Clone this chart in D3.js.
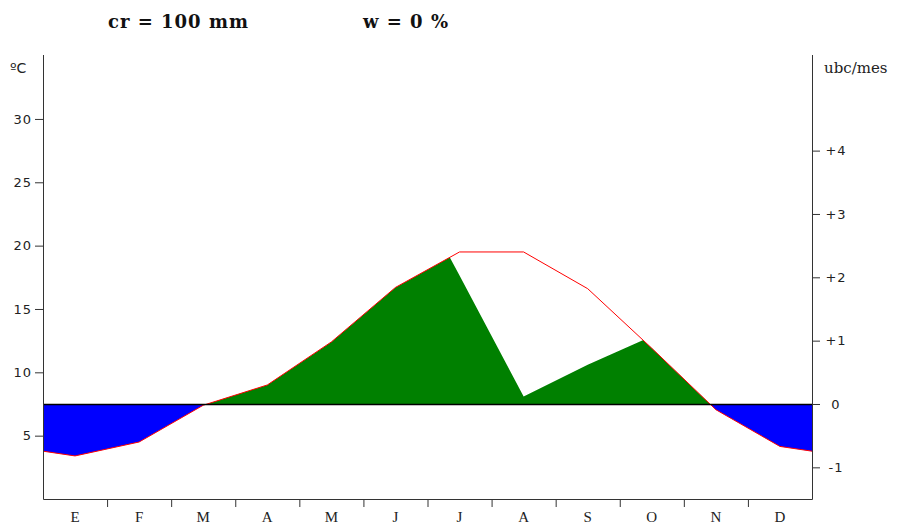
<!DOCTYPE html>
<html><head><meta charset="utf-8">
<script src="https://cdn.jsdelivr.net/npm/d3@7"></script>
<style>body{margin:0;background:#fff}svg{display:block}</style>
</head><body>
<script>
// ---- data ----
const months = ["E","F","M","A","M","J","J","A","S","O","N","D"];
const temperature = [3.4, 4.5, 7.4, 9.0, 12.4, 16.7, 19.5, 19.5, 16.6, 11.9, 7.05, 4.15]; // °C
const iblLibre = [0, 0, 0, 0.31, 0.99, 3.9, 2.03, 0.12, 0.62, 1.07, 0, 0];           // ubc/mes
const leftTicks = [5, 10, 15, 20, 25, 30];
const rightTicks = [-1, 0, 1, 2, 3, 4];
const titleLeft = "cr = 100 mm";
const titleRight = "w = 0 %";
const leftUnit = "ºC";
const rightUnit = "ubc/mes";
const baseT = 7.5;

// ---- setup ----
const W = 901, H = 525;
const svg = d3.select("body").append("svg").attr("width", W).attr("height", H);
const x = d3.scaleLinear().domain([0, 12]).range([43, 812]);
const y = d3.scaleLinear().domain([0, 35]).range([499, 55.6]);
const yR = d3.scaleLinear().domain([-1.5, 5.5]).range([499, 55.6]);
const band = d3.scaleBand().domain(d3.range(12)).range([43, 812]);

// temperature points incl. edges (edge = mean of Dec & Jan)
const edgeT = (temperature[0] + temperature[11]) / 2;
const tPts = [[0, edgeT]].concat(temperature.map((t, i) => [i + 0.5, t])).concat([[12, edgeT]]);
const gPts = iblLibre.map((g, i) => [i + 0.5, g]);

const defs = svg.append("defs");
const areaT = d3.area().x(d => x(d[0])).y0(y(baseT)).y1(d => y(d[1]));
defs.append("clipPath").attr("id", "underT").append("path").attr("d", areaT(tPts));
defs.append("clipPath").attr("id", "belowBase").append("rect")
  .attr("x", x(0)).attr("y", y(baseT)).attr("width", x(12) - x(0)).attr("height", y(0) - y(baseT));
defs.append("clipPath").attr("id", "aboveBase").append("rect")
  .attr("x", x(0)).attr("y", 0).attr("width", x(12) - x(0)).attr("height", y(baseT));

// green (free bioclimatic activity)
const areaG = d3.area().x(d => x(d[0])).y0(yR(0)).y1(d => yR(d[1]));
svg.append("g").attr("clip-path", "url(#underT)")
  .append("path").attr("clip-path", "url(#aboveBase)")
  .attr("d", areaG(gPts)).attr("fill", "#008000");

// blue (cold)
svg.append("path").attr("clip-path", "url(#belowBase)")
  .attr("d", areaT(tPts)).attr("fill", "#0000ff");

// temperature line
svg.append("path").attr("d", d3.line().x(d => x(d[0])).y(d => y(d[1]))(tPts))
  .attr("fill", "none").attr("stroke", "#ff0000").attr("stroke-width", 1);

// zero line
svg.append("line").attr("x1", x(0)).attr("x2", x(12))
  .attr("y1", y(baseT) + 0.5).attr("y2", y(baseT) + 0.5)
  .attr("stroke", "#000").attr("stroke-width", 1.5);

// axes
const axisCol = "#333";
const gl = svg.append("g").attr("transform", `translate(${x(0)},0)`)
  .call(d3.axisLeft(y).tickValues(leftTicks).tickSize(8).tickPadding(3).tickSizeOuter(0));
gl.select(".domain").remove();
gl.selectAll("line").attr("stroke", axisCol);
gl.selectAll("text").attr("font-family", "DejaVu Sans").attr("font-size", 13).attr("fill", "#222").attr("letter-spacing", 1);

const gr = svg.append("g").attr("transform", `translate(${x(12)},0)`)
  .call(d3.axisRight(yR).tickValues(rightTicks).tickSize(8)
    .tickFormat(d => d > 0 ? "+" + d : (d < 0 ? "-" + Math.abs(d) : "0")));
gr.select(".domain").remove();
gr.selectAll("line").attr("stroke", axisCol);
gr.selectAll("text").attr("x", 24).attr("text-anchor", "middle")
  .attr("font-family", "DejaVu Sans").attr("font-size", 13).attr("fill", "#222").attr("letter-spacing", 1);

const gbt = svg.append("g").attr("transform", `translate(0,${y(0)})`)
  .call(d3.axisBottom(x).tickValues(d3.range(1, 12)).tickSize(8).tickFormat(""));
gbt.select(".domain").remove();
gbt.selectAll("line").attr("stroke", axisCol);

const gbl = svg.append("g").attr("transform", `translate(0,${y(0)})`)
  .call(d3.axisBottom(band).tickSize(0).tickPadding(12).tickFormat(i => months[i]));
gbl.select(".domain").remove();
gbl.selectAll("text").attr("font-family", "Liberation Serif").attr("font-size", 15).attr("fill", "#222");

// frame lines (left, bottom, right)
svg.append("path")
  .attr("d", `M${x(0) + 0.5},55V${y(0) + 0.5}H${x(12) + 0.5}V55`)
  .attr("fill", "none").attr("stroke", axisCol).attr("stroke-width", 1);

// texts
svg.append("text").attr("x", 108).attr("y", 28).text(titleLeft)
  .attr("font-family", "DejaVu Serif").attr("font-weight", "bold").attr("font-size", 18)
  .attr("letter-spacing", 1).attr("fill", "#111");
svg.append("text").attr("x", 363).attr("y", 28).text(titleRight)
  .attr("font-family", "DejaVu Serif").attr("font-weight", "bold").attr("font-size", 18)
  .attr("letter-spacing", 1).attr("fill", "#111");
svg.append("text").attr("x", 10).attr("y", 73).text(leftUnit)
  .attr("font-family", "DejaVu Sans").attr("font-size", 14).attr("fill", "#222");
svg.append("text").attr("x", 824).attr("y", 73).text(rightUnit)
  .attr("font-family", "DejaVu Serif").attr("font-size", 15).attr("fill", "#222");
</script>
</body></html>
